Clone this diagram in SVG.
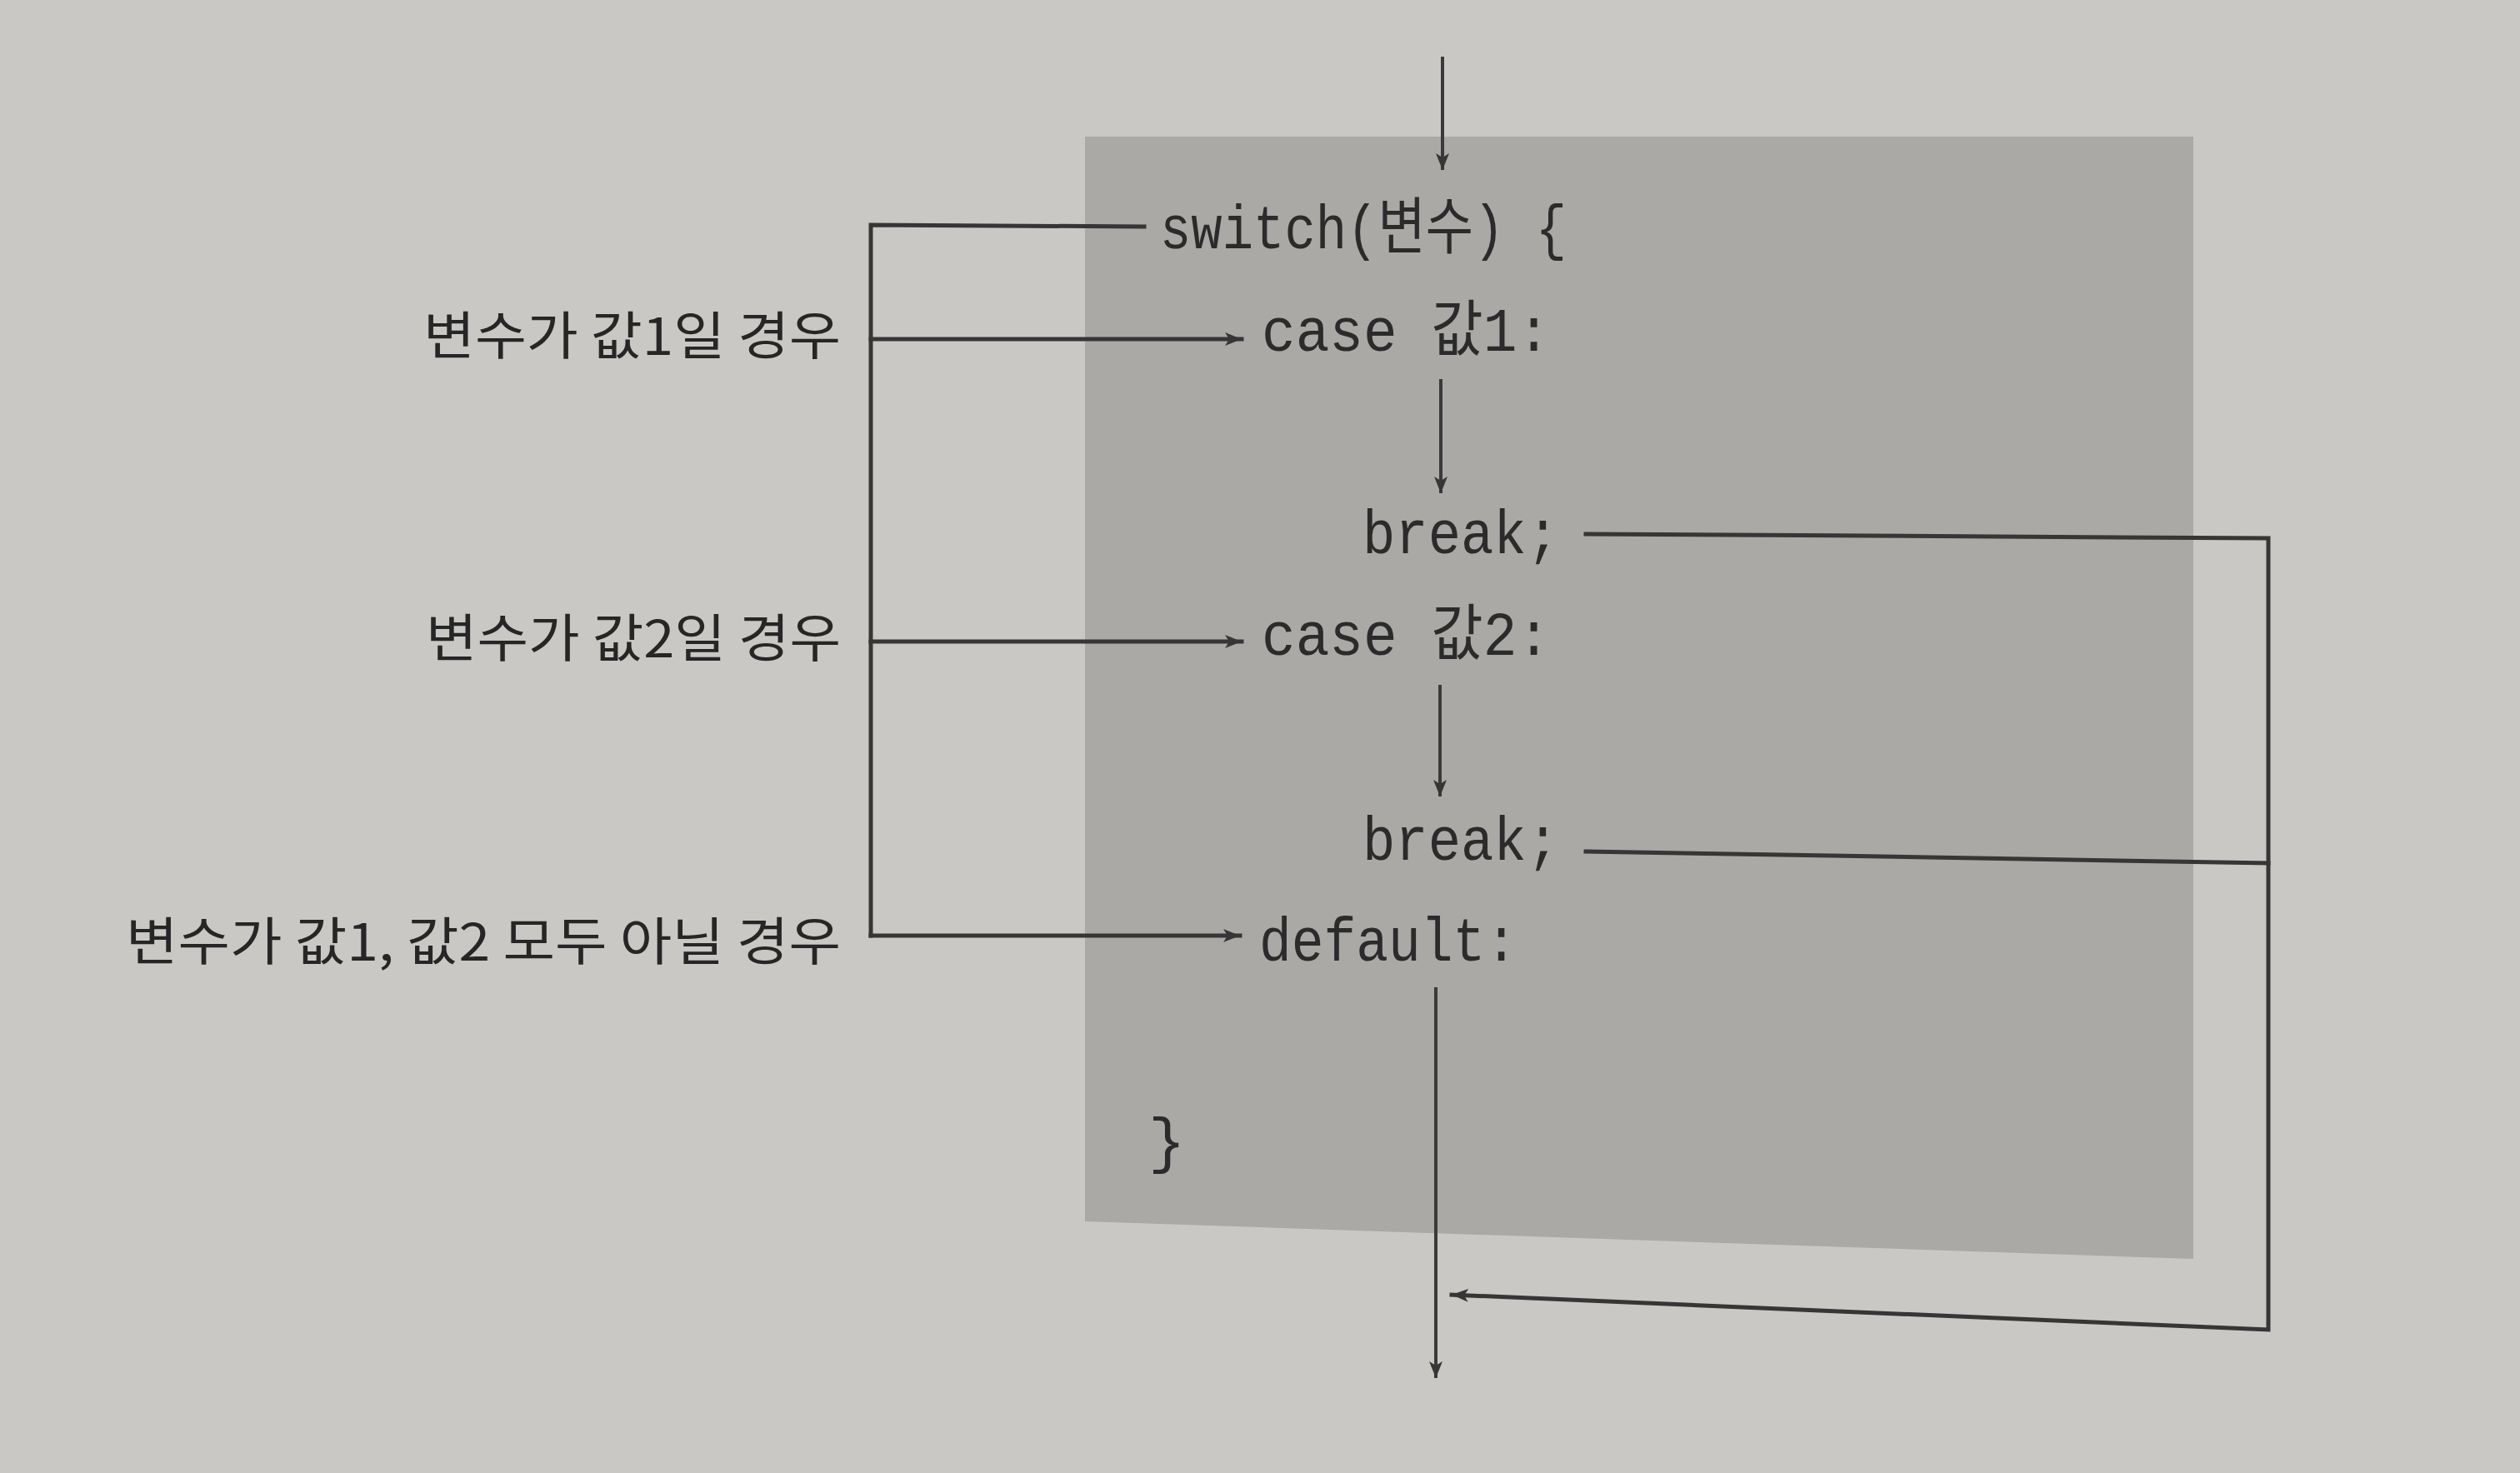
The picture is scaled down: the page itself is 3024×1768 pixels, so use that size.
<svg xmlns="http://www.w3.org/2000/svg" width="3024" height="1768" viewBox="0 0 3024 1768">
<style>
.code{font-family:"Liberation Mono","Noto Sans CJK KR",monospace;font-size:74px;fill:#2b2b2b}
.lbl{font-family:"Noto Sans CJK KR","Noto Sans",sans-serif;font-size:62px;fill:#262626;text-anchor:end}
.ln{fill:none;stroke:#363636;stroke-width:5;stroke-linecap:square}
.thin{fill:none;stroke:#3a3a3a;stroke-width:4}
</style>
<defs>
<marker id="ah" markerUnits="userSpaceOnUse" markerWidth="22" markerHeight="16" refX="20" refY="8" orient="auto">
<path d="M0,0 L20,8 L0,16 L5,8 z" fill="#363636"/>
</marker>
</defs>
<rect x="0" y="0" width="3024" height="1768" fill="#c9c8c4"/>
<polygon id="code-block" points="1302,164 2632,164 2632,1511 1302,1466" fill="#aaa9a6"/>

<g id="connectors">
<line class="thin" x1="1731" y1="68" x2="1731" y2="204" marker-end="url(#ah)"/>
<polyline class="ln" points="1373,272 1045,270 1045,1123"/>
<line class="ln" x1="1045" y1="407" x2="1490" y2="407" marker-end="url(#ah)"/>
<line class="ln" x1="1045" y1="770" x2="1490" y2="770" marker-end="url(#ah)"/>
<line class="ln" x1="1045" y1="1123" x2="1488" y2="1123" marker-end="url(#ah)"/>
<line class="thin" x1="1729" y1="455" x2="1729" y2="592" marker-end="url(#ah)"/>
<line class="thin" x1="1728" y1="822" x2="1728" y2="956" marker-end="url(#ah)"/>
<polyline class="ln" points="1903,641 2722,646 2722,1596 1742,1554" marker-end="url(#ah)"/>
<line class="ln" x1="1903" y1="1022" x2="2722" y2="1036"/>
<line class="thin" x1="1723" y1="1185" x2="1723" y2="1654" marker-end="url(#ah)"/>
</g>

<g id="n-switch"><text class="code" x="1392" y="298" textLength="488" lengthAdjust="spacingAndGlyphs">switch(변수) {</text></g>
<g id="n-case1"><text class="code" x="1514" y="421" textLength="347" lengthAdjust="spacingAndGlyphs">case 값1:</text></g>
<g id="n-break1"><text class="code" x="1635" y="664" textLength="236" lengthAdjust="spacingAndGlyphs">break;</text></g>
<g id="n-case2"><text class="code" x="1514" y="786" textLength="347" lengthAdjust="spacingAndGlyphs">case 값2:</text></g>
<g id="n-break2"><text class="code" x="1635" y="1032" textLength="236" lengthAdjust="spacingAndGlyphs">break;</text></g>
<g id="n-default"><text class="code" x="1511" y="1153" textLength="310" lengthAdjust="spacingAndGlyphs">default:</text></g>
<g id="n-close"><text class="code" x="1378" y="1394">}</text></g>

<g id="l-case1"><text class="lbl" x="1009" y="426" textLength="501" lengthAdjust="spacingAndGlyphs">변수가 값1일 경우</text></g>
<g id="l-case2"><text class="lbl" x="1009" y="789" textLength="498" lengthAdjust="spacingAndGlyphs">변수가 값2일 경우</text></g>
<g id="l-default"><text class="lbl" x="1009" y="1153" textLength="858" lengthAdjust="spacingAndGlyphs">변수가 값1, 값2 모두 아닐 경우</text></g>
</svg>
